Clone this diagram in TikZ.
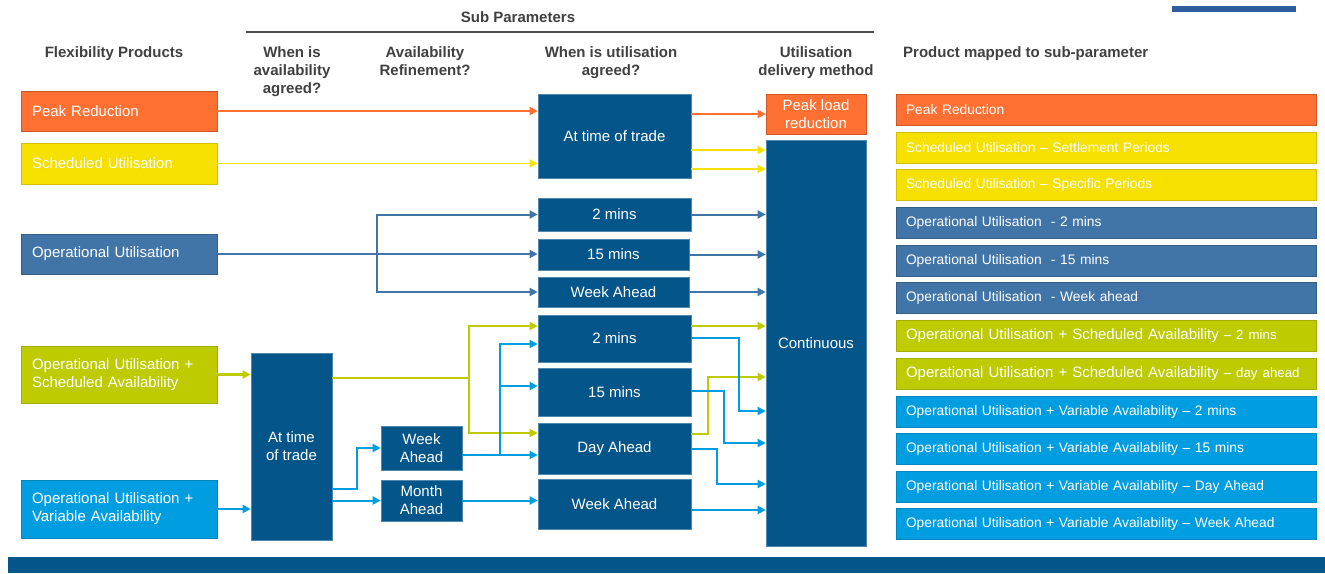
\documentclass[tikz,border=0pt]{standalone}
\usepackage{fontspec}
\setmainfont{Liberation Sans}
\usetikzlibrary{arrows.meta}
\definecolor{dblue}{RGB}{3,85,138}
\definecolor{corange}{RGB}{255,112,50}
\definecolor{cyellow}{RGB}{246,224,0}
\definecolor{cop}{RGB}{66,117,167}
\definecolor{clime}{RGB}{190,203,0}
\definecolor{ccyan}{RGB}{0,158,224}
\definecolor{hgrey}{RGB}{64,64,64}
\definecolor{lyellow}{RGB}{250,226,0}
\newcommand\fA{\fontsize{15pt}{18pt}\selectfont}
\newcommand\fB{\fontsize{13.8pt}{16pt}\selectfont}
\newcommand\fBs{\fontsize{13.3pt}{16pt}\selectfont}
\newcommand\fBh{\fontsize{15pt}{18pt}\selectfont}
\newcommand\fHd{\fontsize{15pt}{18pt}\selectfont\bfseries}
\tikzset{
  hdr/.style={text=hgrey, font=\fHd, align=center, inner sep=0pt},
  lbox/.style={text=white, font=\fA, text width=174pt, align=left, inner xsep=11pt, inner ysep=0pt, line width=0.8pt},
  dbox/.style={fill=dblue, draw=dblue!70!white, text=white, font=\fA, align=center, inner sep=0pt, line width=0.6pt},
  rbox/.style={text=white, font=\fB, text width=400pt, align=left, inner xsep=10pt, inner ysep=0pt, minimum height=31pt, line width=0.8pt},
  arr/.style={-{Triangle[length=8pt,width=8pt]}},
  co/.style={arr, draw=corange, line width=2pt},
  cy/.style={arr, draw=lyellow, line width=1.7pt},
  cb/.style={arr, draw=cop, line width=2pt},
  cl/.style={arr, draw=clime, line width=2.4pt},
  cc/.style={arr, draw=ccyan, line width=2pt},
}
\begin{document}
\begin{tikzpicture}[x=1pt,y=-1pt]
\useasboundingbox (0,0) rectangle (1325,573);
% bars
\fill[fill={rgb,255:red,46;green,94;blue,158}] (1172,6) rectangle (1296,12);
\fill[dblue] (8,557) rectangle (1325,573);
% headers
\node[hdr] (hsub) at (518,17) {Sub Parameters};
\draw[draw={rgb,255:red,80;green,80;blue,80}, line width=2.2pt] (246,32) -- (874,32);
\node[hdr] (h1) at (114,54) {Flexibility Products};
\node[hdr, anchor=north] (h2) at (292,46) {When is\\availability\\agreed?};
\node[hdr, anchor=north] (h3) at (425,46) {Availability\\Refinement?};
\node[hdr, anchor=north] (h4) at (611,46) {When is utilisation\\agreed?};
\node[hdr, anchor=north] (h5) at (816,46) {Utilisation\\delivery method};
\node[hdr, anchor=west] (h6) at (903,54) {Product mapped to sub-parameter};
% left products
\node[lbox, fill=corange, draw=corange!80!black, minimum height=40pt] (pr) at (119,111) {Peak Reduction};
\node[lbox, fill=cyellow, draw=cyellow!85!black, minimum height=41pt] (su) at (119,163.5) {Scheduled Utilisation};
\node[lbox, fill=cop, draw=cop!80!black, minimum height=40pt] (ou) at (119,254) {Operational Utilisation};
\node[lbox, fill=clime, draw=clime!85!black, minimum height=57pt] (osa) at (119,374.5) {Operational Utilisation +\\Scheduled Availability};
\node[lbox, fill=ccyan, draw=ccyan!85!black, minimum height=58pt] (ova) at (119,509) {Operational Utilisation +\\Variable Availability};
% availability
\node[dbox, minimum width=81pt, minimum height=187pt] (at) at (291.5,446.5) {At time\\of trade};
\node[dbox, minimum width=81pt, minimum height=44pt] (wa) at (421.5,448) {Week\\Ahead};
\node[dbox, minimum width=81pt, minimum height=41pt] (ma) at (421.5,500.5) {Month\\Ahead};
% utilisation agreed
\node[dbox, minimum width=153pt, minimum height=84pt] (m1) at (614.5,136) {At time of trade};
\node[dbox, minimum width=153pt, minimum height=33pt] (o2) at (614.5,214.5) {2 mins};
\node[dbox, minimum width=151pt, minimum height=31pt] (o15) at (613.5,254.5) {15 mins};
\node[dbox, minimum width=151pt, minimum height=30pt] (owa) at (613.5,292) {Week Ahead};
\node[dbox, minimum width=153pt, minimum height=47pt] (s2) at (614.5,338.5) {2 mins};
\node[dbox, minimum width=153pt, minimum height=48pt] (s15) at (614.5,392) {15 mins};
\node[dbox, minimum width=153pt, minimum height=51pt] (sda) at (614.5,448.5) {Day Ahead};
\node[dbox, minimum width=153pt, minimum height=50pt] (swa) at (614.5,504) {Week Ahead};
% delivery
\node[dbox, fill=corange, draw=corange!80!black, minimum width=100pt, minimum height=40pt] (pl) at (816,114) {Peak load\\reduction};
\node[dbox, minimum width=100pt, minimum height=406pt] (cont) at (816,343) {Continuous};
% right list
\node[rbox, fill=corange, draw=corange!80!black] (r1) at (1106,110) {Peak Reduction};
\node[rbox, fill=cyellow, draw=cyellow!85!black] (r2) at (1106,147.5) {Scheduled Utilisation -- Settlement Periods};
\node[rbox, fill=cyellow, draw=cyellow!85!black] (r3) at (1106,185) {Scheduled Utilisation -- Specific Periods};
\node[rbox, fill=cop, draw=cop!80!black] (r4) at (1106,222.5) {Operational Utilisation~ - 2 mins};
\node[rbox, fill=cop, draw=cop!80!black] (r5) at (1106,260.5) {Operational Utilisation~ - 15 mins};
\node[rbox, fill=cop, draw=cop!80!black] (r6) at (1106,298) {Operational Utilisation~ - Week ahead};
\node[rbox, fill=clime, draw=clime!85!black, font=\fBh] (r7) at (1106,335.5) {Operational Utilisation + Scheduled Availability {\fBs-- 2 mins}};
\node[rbox, fill=clime, draw=clime!85!black, font=\fBh] (r8) at (1106,373.5) {Operational Utilisation + Scheduled Availability {\fBs-- day ahead}};
\node[rbox, fill=ccyan, draw=ccyan!85!black] (r9) at (1106,411.5) {Operational Utilisation + Variable Availability -- 2 mins};
\node[rbox, fill=ccyan, draw=ccyan!85!black] (r10) at (1106,448.5) {Operational Utilisation + Variable Availability -- 15 mins};
\node[rbox, fill=ccyan, draw=ccyan!85!black] (r11) at (1106,486.5) {Operational Utilisation + Variable Availability -- Day Ahead};
\node[rbox, fill=ccyan, draw=ccyan!85!black] (r12) at (1106,523.5) {Operational Utilisation + Variable Availability -- Week Ahead};
% orange
\draw[co] (pr.east) -- (m1.west |- pr.east);
\draw[co] (m1.east |- pl.west) -- (pl.west);
% yellow
\draw[cy] (su.east) -- (m1.west |- su.east);
\draw[cy] (m1.east |- 0,150) -- (cont.west |- 0,150);
\draw[cy] (m1.east |- 0,169) -- (cont.west |- 0,169);
% operational blue
\coordinate (jo) at (377,254);
\draw[cb] (ou.east) -- (o15.west |- ou.east);
\draw[cb] (jo) |- (o2.west);
\draw[cb] (jo) |- (owa.west);
\draw[cb] (o2.east) -- (cont.west |- o2.east);
\draw[cb] (o15.east) -- (cont.west |- o15.east);
\draw[cb] (owa.east) -- (cont.west |- owa.east);
% lime
\coordinate (jl) at (469,378);
\draw[cl] (osa.east) -- (at.west |- osa.east);
\draw[cl] (at.east |- jl) -- (jl) |- ([yshift=12.5pt]s2.west);
\draw[cl] (jl) |- ([yshift=15.5pt]sda.west);
\draw[cl] ([yshift=12.5pt]s2.east) -- (cont.west |- 0,326);
\draw[cl] ([yshift=14.5pt]sda.east) -- (708,434) |- (cont.west |- 0,377);
% cyan
\coordinate (jc) at (500,455);
\draw[cc] (ova.east) -- (at.west |- ova.east);
\draw[cc] (at.east |- 0,489) -- (357,489) |- (wa.west);
\draw[cc] (at.east |- ma.west) -- (ma.west);
\draw[cc] ([yshift=-7pt]wa.east) -- (sda.west |- jc);
\draw[cc] (jc) |- ([yshift=-5.5pt]s2.west);
\draw[cc] (jc) |- (s15.west |- 0,386);
\draw[cc] (ma.east) -- (swa.west |- ma.east);
\draw[cc] (s2.east |- 0,338) -- (739,338) |- (cont.west |- 0,411);
\draw[cc] (s15.east |- 0,391) -- (724,391) |- (cont.west |- 0,443);
\draw[cc] (sda.east |- 0,449) -- (717,449) |- (cont.west |- 0,484);
\draw[cc] (swa.east |- 0,510) -- (cont.west |- 0,510);
\end{tikzpicture}
\end{document}
